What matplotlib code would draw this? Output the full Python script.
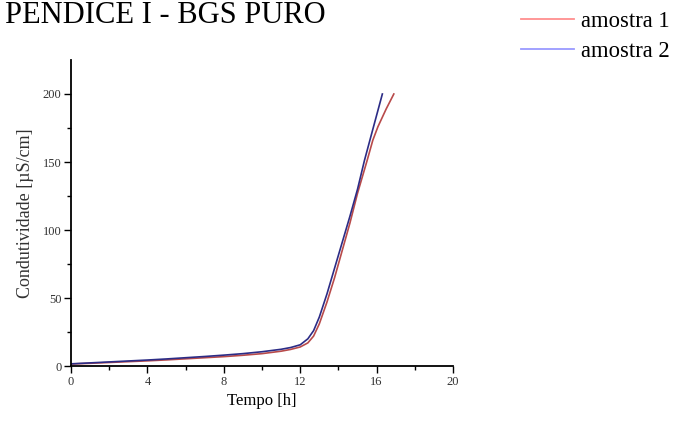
import matplotlib.pyplot as plt
from matplotlib.lines import Line2D

# amostra 1 (red)
t1 = [0, 1, 2, 3, 4, 5, 6, 7, 8, 9, 10, 11, 11.5, 12, 12.4, 12.7, 13.0, 13.4,
      13.8, 14.2, 14.6, 15.0, 15.5, 15.8, 16.07, 16.5, 16.9]
y1 = [1.5, 2.0, 2.6, 3.2, 3.8, 4.5, 5.3, 6.1, 6.9, 7.9, 9.1, 10.9, 12.2, 14.0,
      17.0, 22.0, 31.0, 47.0, 65.0, 85.0, 105.0, 127.0, 151.0, 166.0, 176.0, 189.0, 200.0]

# amostra 2 (blue)
t2 = [0, 1, 2, 3, 4, 5, 6, 7, 8, 9, 10, 11, 11.5, 12, 12.4, 12.7, 13.0, 13.4,
      13.8, 14.2, 14.6, 15.0, 15.36, 15.8, 16.3]
y2 = [1.6, 2.3, 3.0, 3.7, 4.4, 5.2, 6.1, 7.0, 8.0, 9.1, 10.5, 12.3, 13.6, 15.6,
      20.0, 26.0, 36.0, 53.0, 72.0, 91.0, 110.0, 130.0, 151.0, 174.0, 200.0]

labels = ['amostra 1', 'amostra 2']
serif = ['Liberation Serif', 'DejaVu Serif']

fig = plt.figure(figsize=(6.78, 4.21), dpi=100)
ax = fig.add_axes([0.1047, 0.1306, 0.5635, 0.7269])

ax.plot(t1, y1, color='#b84a4a', lw=1.2)
ax.plot(t2, y2, color='#2c2c86', lw=1.2)

ax.set_xlim(0, 20)
ax.set_ylim(0, 225)
ax.set_xticks([0, 4, 8, 12, 16, 20])
ax.set_xticks([2, 6, 10, 14, 18], minor=True)
ax.set_yticks([0, 50, 100, 150, 200])
ax.set_yticks([25, 75, 125, 175], minor=True)
for s in ['top', 'right']:
    ax.spines[s].set_visible(False)
for s in ['left', 'bottom']:
    ax.spines[s].set_linewidth(1.3)
ax.tick_params(which='major', length=5, width=1, labelsize=9, pad=2)
ax.tick_params(which='minor', length=3, width=1)
for lab in ax.get_xticklabels() + ax.get_yticklabels():
    lab.set_family(serif)
    lab.set_color('#333333')

ax.set_xlabel('Tempo [h]', family=serif, fontsize=12, labelpad=4)
ax.set_ylabel('Condutividade [µS/cm]', family=serif, fontsize=13, labelpad=6, color='#333333')

fig.text(326 / 678, 1 - 23 / 421, 'PENDICE I - BGS PURO', family=serif,
         fontsize=22, ha='right', va='baseline')

handles = [Line2D([], [], color='#ff8f8f', lw=1.3),
           Line2D([], [], color='#9a9aff', lw=1.3)]
fig.legend(handles, labels, loc='upper left', bbox_to_anchor=(516 / 678, 1 - 6 / 421),
           frameon=False, prop={'family': serif, 'size': 16.3},
           handlelength=2.35, handletextpad=0.3, labelspacing=0.42,
           borderaxespad=0.0, borderpad=0.2)

fig.savefig('out.png', dpi=100)
